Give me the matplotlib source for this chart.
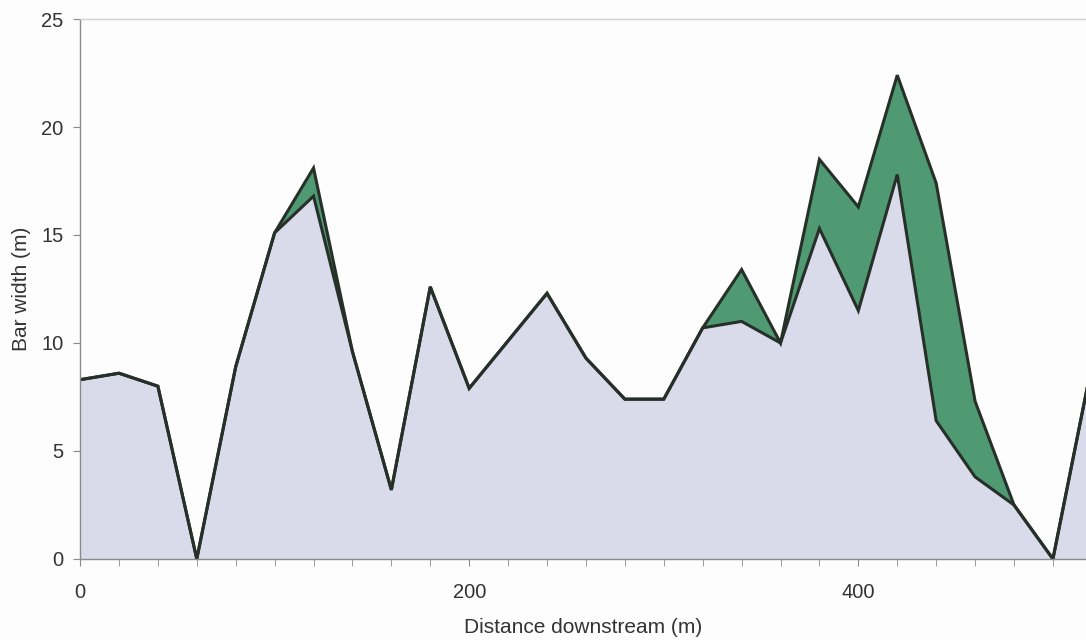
import matplotlib
matplotlib.use("Agg")
import matplotlib.pyplot as plt
import numpy as np

# distance downstream (m) and bar width (m) for the two surveys
distance = [0, 20, 40, 60, 80, 100, 120, 140, 160, 180, 200, 220, 240, 260,
            280, 300, 320, 340, 360, 380, 400, 420, 440, 460, 480, 500, 520]
width_low = [8.3, 8.6, 8.0, 0.0, 8.9, 15.1, 16.8, 9.6, 3.2, 12.6, 7.9, 10.1, 12.3, 9.3,
             7.4, 7.4, 10.7, 11.0, 10.0, 15.3, 11.5, 17.8, 6.4, 3.8, 2.5, 0.0, 9.0]
width_high = [8.3, 8.6, 8.0, 0.0, 8.9, 15.1, 18.1, 9.6, 3.2, 12.6, 7.9, 10.1, 12.3, 9.3,
              7.4, 7.4, 10.7, 13.4, 10.0, 18.5, 16.3, 22.4, 17.4, 7.3, 2.5, 0.0, 9.0]

plt.rcParams['font.family'] = ['Liberation Sans', 'DejaVu Sans']

fig = plt.figure(figsize=(10.86, 6.4), dpi=100)
fig.patch.set_facecolor('#fdfdfd')
ax = fig.add_axes([0.0737, 0.1266, 0.9263, 0.8437])
ax.set_facecolor('#fdfdfd')

ax.fill_between(distance, width_high, color='#4f9a73', lw=0)
ax.fill_between(distance, width_low, color='#d9dbeb', lw=0)
ax.plot(distance, width_high, color='#263029', lw=2.2, solid_joinstyle='miter')
ax.plot(distance, width_low, color='#263029', lw=2.2, solid_joinstyle='miter')

ax.set_xlim(0, 517)
ax.set_ylim(0, 25)
ax.set_xticks([0, 200, 400])
ax.set_xticks(np.arange(0, 520, 20), minor=True)
ax.set_yticks([0, 5, 10, 15, 20, 25])

for s in ['left', 'bottom', 'top']:
    ax.spines[s].set_color('#8a8a8a')
    ax.spines[s].set_linewidth(1.0)
ax.spines['top'].set_color('#d0d0d0')
ax.spines['right'].set_visible(False)

ax.tick_params(axis='both', which='both', direction='out', length=5,
               color='#8a8a8a', labelsize=14.5, labelcolor='#333333')
ax.tick_params(axis='x', pad=12)
ax.tick_params(axis='y', pad=7)

ax.set_xlabel('Distance downstream (m)', fontsize=15, color='#333333', labelpad=12)
ax.set_ylabel('Bar width (m)', fontsize=15, color='#333333', labelpad=7)

fig.savefig('out.png', dpi=100, facecolor=fig.get_facecolor())
